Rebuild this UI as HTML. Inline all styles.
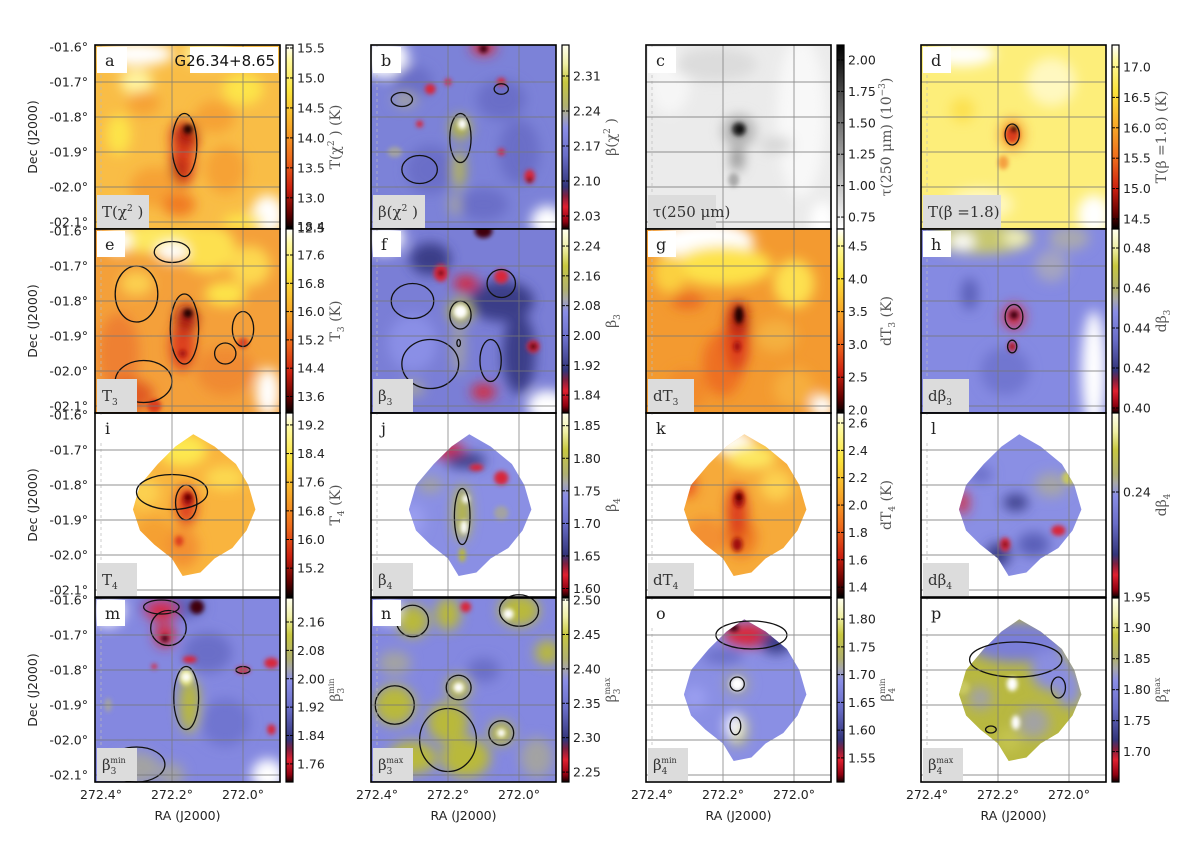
<!DOCTYPE html>
<html><head><meta charset="utf-8">
<style>
html,body{margin:0;padding:0;background:#fff;}
svg{display:block;}
text{font-family:"DejaVu Sans","Liberation Sans",sans-serif;}
.ser{font-family:"DejaVu Serif","Liberation Serif",serif;}
</style></head>
<body>
<svg id="fig" width="1200" height="842" viewBox="0 0 1200 842" xmlns="http://www.w3.org/2000/svg">
<defs>
<filter id="blur" x="-30%" y="-30%" width="160%" height="160%"><feGaussianBlur stdDeviation="6"/></filter>
<filter id="blur2" x="-50%" y="-50%" width="200%" height="200%"><feGaussianBlur stdDeviation="2.2"/></filter>
<linearGradient id="cm-hot" x1="0" y1="0" x2="0" y2="1">
<stop offset="0" stop-color="#ffffff"/><stop offset="0.08" stop-color="#fffaa0"/><stop offset="0.25" stop-color="#fbe43c"/><stop offset="0.45" stop-color="#f7a628"/><stop offset="0.62" stop-color="#ee6a1c"/><stop offset="0.78" stop-color="#cc2010"/><stop offset="0.92" stop-color="#600000"/><stop offset="1" stop-color="#000"/>
</linearGradient>
<linearGradient id="cm-beta" x1="0" y1="0" x2="0" y2="1">
<stop offset="0" stop-color="#fffff0"/><stop offset="0.1" stop-color="#f0f0a8"/><stop offset="0.2" stop-color="#c8c840"/><stop offset="0.33" stop-color="#b0b070"/><stop offset="0.38" stop-color="#a8a8a8"/><stop offset="0.45" stop-color="#8a8ee6"/><stop offset="0.6" stop-color="#6a6ec8"/><stop offset="0.77" stop-color="#33357a"/><stop offset="0.82" stop-color="#802040"/><stop offset="0.88" stop-color="#e02030"/><stop offset="0.96" stop-color="#900010"/><stop offset="1" stop-color="#100000"/>
</linearGradient>
<linearGradient id="cm-gray" x1="0" y1="0" x2="0" y2="1">
<stop offset="0" stop-color="#000"/><stop offset="0.3" stop-color="#555"/><stop offset="1" stop-color="#fff"/>
</linearGradient>
</defs>
</svg>
<script>
// ---- axis data ----
const raTicks = [272.4, 272.2, 272.0];
const decTicks = [-1.6, -1.7, -1.8, -1.9, -2.0, -2.1];
const panelLetters = ['a','b','c','d','e','f','g','h','i','j','k','l','m','n','o','p'];
// colorbar ranges (value at top, value at bottom) and tick values
const cbTop = [15.55,2.372,2.119,17.362, 18.335,2.2857,4.759,0.4895, 19.533,1.8695,2.673,0.319, 2.2276,2.503,1.838,1.948];
const cbBot = [12.48,2.004,0.655,14.335, 13.133,1.792,1.955,0.3975, 14.394,1.587,1.328,0.135, 1.709,2.2356,1.5066,1.651];
const cbTicks = [
 [15.5,15.0,14.5,14.0,13.5,13.0,12.5],[2.31,2.24,2.17,2.10,2.03],[2.00,1.75,1.50,1.25,1.00,0.75],[17.0,16.5,16.0,15.5,15.0,14.5],
 [18.4,17.6,16.8,16.0,15.2,14.4,13.6],[2.24,2.16,2.08,2.00,1.92,1.84],[4.5,4.0,3.5,3.0,2.5,2.0],[0.48,0.46,0.44,0.42,0.40],
 [19.2,18.4,17.6,16.8,16.0,15.2],[1.85,1.80,1.75,1.70,1.65,1.60],[2.6,2.4,2.2,2.0,1.8,1.6,1.4],[0.24],
 [2.16,2.08,2.00,1.92,1.84,1.76],[2.50,2.45,2.40,2.35,2.30,2.25],[1.80,1.75,1.70,1.65,1.60,1.55],[1.95,1.90,1.85,1.80,1.75,1.70]];
const cbDecimals = [1,2,2,1, 1,2,1,2, 1,2,1,2, 2,2,2,2];
const cbMaps = ['hot','beta','gray','hot','hot','beta','hot','beta','hot','beta','hot','beta','beta','beta','beta','beta'];
const cbLabels = [
 'T(χ<tspan dy="-6" font-size="9">2</tspan><tspan dy="6"> ) (K)</tspan>','β(χ<tspan dy="-6" font-size="9">2</tspan><tspan dy="6"> )</tspan>',
 'τ(250 μm) (10<tspan dy="-6" font-size="9">−3</tspan><tspan dy="6">)</tspan>','T(β =1.8) (K)',
 'T<tspan dy="4" font-size="9">3</tspan><tspan dy="-4"> (K)</tspan>','β<tspan dy="4" font-size="9">3</tspan>',
 'dT<tspan dy="4" font-size="9">3</tspan><tspan dy="-4"> (K)</tspan>','dβ<tspan dy="4" font-size="9">3</tspan>',
 'T<tspan dy="4" font-size="9">4</tspan><tspan dy="-4"> (K)</tspan>','β<tspan dy="4" font-size="9">4</tspan>',
 'dT<tspan dy="4" font-size="9">4</tspan><tspan dy="-4"> (K)</tspan>','dβ<tspan dy="4" font-size="9">4</tspan>',
 'β<tspan dy="4" font-size="9">3</tspan><tspan dy="-10" dx="-6" font-size="8">min</tspan>','β<tspan dy="4" font-size="9">3</tspan><tspan dy="-10" dx="-6" font-size="8">max</tspan>',
 'β<tspan dy="4" font-size="9">4</tspan><tspan dy="-10" dx="-6" font-size="8">min</tspan>','β<tspan dy="4" font-size="9">4</tspan><tspan dy="-10" dx="-6" font-size="8">max</tspan>'];
const boxLabels = [
 'T(χ<tspan dy="-6" font-size="9">2</tspan><tspan dy="6"> )</tspan>','β(χ<tspan dy="-6" font-size="9">2</tspan><tspan dy="6"> )</tspan>','τ(250 μm)','T(β =1.8)',
 'T<tspan dy="4" font-size="9">3</tspan>','β<tspan dy="4" font-size="9">3</tspan>','dT<tspan dy="4" font-size="9">3</tspan>','dβ<tspan dy="4" font-size="9">3</tspan>',
 'T<tspan dy="4" font-size="9">4</tspan>','β<tspan dy="4" font-size="9">4</tspan>','dT<tspan dy="4" font-size="9">4</tspan>','dβ<tspan dy="4" font-size="9">4</tspan>',
 'β<tspan dy="4" font-size="9">3</tspan><tspan dy="-11" dx="-6" font-size="8">min</tspan>','β<tspan dy="4" font-size="9">3</tspan><tspan dy="-11" dx="-6" font-size="8">max</tspan>',
 'β<tspan dy="4" font-size="9">4</tspan><tspan dy="-11" dx="-6" font-size="8">min</tspan>','β<tspan dy="4" font-size="9">4</tspan><tspan dy="-11" dx="-6" font-size="8">max</tspan>'];
const boxWidths = [52,52,68,78, 40,40,46,46, 40,40,46,46, 40,40,40,40];

// ---- map features (RA, Dec, halfsize RA, halfsize Dec, colour) ----
const W_='#ffffff',LY='#fff5a0',Y_='#fde44a',YO='#fbc444',O_='#f6a234',DO='#f07a24',R_='#dc3c1c',DR='#a01008',K_='#1a0000';
const Ol='#b9b93a',Gr='#a3a3a3',P_='#8a8fe6',B_='#6a6ec8',N_='#3a3c88',Rd='#d8283a',Dk='#400010';
const footprint = ['full','full','full','full','full','full','full','full','diamond','diamond','diamond','diamond','full','full','diamond','diamond'];
const baseColor = ['#f9bd46','#7c82d8','#ebebeb','#fdee7a','#f4a03a','#7a7ed6','#f39a30','#858ae2','#f9b43e','#8a8fe4','#f6aa3a','#8a8fe4','#8488e0','#8488e0','#8a8fe4','#b8b840'];
const diamondPts = [[272.14,-1.655],[272.08,-1.69],[272.02,-1.74],[271.985,-1.80],[271.965,-1.87],[271.99,-1.93],[272.03,-1.98],[272.08,-2.01],[272.12,-2.05],[272.17,-2.06],[272.2,-2.01],[272.25,-1.97],[272.29,-1.93],[272.31,-1.87],[272.29,-1.80],[272.24,-1.74],[272.19,-1.69]];
const blobs = [
 [[272.3,-1.62,.09,.03,W_],[272.1,-1.62,.06,.03,LY],[272.3,-1.7,.04,.03,LY],[272.0,-1.72,.05,.04,Y_],[272.28,-1.76,.04,.03,O_],[272.35,-1.85,.03,.05,Y_],[272.08,-1.8,.05,.04,O_],[272.05,-1.95,.05,.06,O_],[272.25,-2.0,.06,.05,O_],[271.93,-2.08,.04,.05,W_],[272.0,-2.1,.05,.02,Y_],[272.35,-2.08,.04,.03,Y_],[272.18,-2.05,.04,.03,DO],[272.17,-1.93,.03,.06,R_],[272.165,-1.86,.035,.045,R_],[272.16,-1.85,.022,.03,DR],[272.155,-1.835,.013,.013,K_],[272.18,-1.95,.012,.03,DR]],
 [[272.38,-1.63,.06,.05,W_],[272.3,-1.7,.05,.04,B_],[272.05,-1.75,.06,.05,B_],[272.0,-1.9,.05,.08,B_],[272.25,-1.95,.06,.06,B_],[272.1,-2.05,.06,.04,B_],[272.1,-1.6,.03,.02,Rd],[272.1,-1.605,.012,.012,Dk],[272.25,-1.72,.015,.015,Rd],[272.2,-1.7,.01,.01,Rd],[272.05,-1.7,.012,.012,Rd],[271.97,-1.97,.015,.02,Rd],[271.97,-1.98,.007,.007,Dk],[272.28,-1.82,.01,.01,Rd],[272.05,-1.9,.01,.01,Rd],[272.32,-1.75,.03,.02,Gr],[272.35,-1.9,.02,.015,Gr],[272.165,-1.83,.025,.03,Ol],[272.16,-1.82,.012,.015,W_],[272.17,-1.95,.015,.05,Ol],[272.18,-2.05,.015,.03,Gr],[271.92,-2.1,.04,.04,W_],[272.37,-2.1,.03,.03,W_]],
 [[271.98,-1.8,.06,.2,'#f8f8f8'],[272.35,-1.7,.05,.08,'#f6f6f6'],[272.22,-1.65,.1,.04,'#dcdcdc'],[272.05,-1.88,.04,.02,'#d6d6d6'],[272.155,-1.84,.04,.04,'#b0b0b0'],[272.155,-1.835,.02,.02,'#303030'],[272.153,-1.835,.011,.011,'#000'],[272.16,-1.92,.015,.03,'#888'],[272.17,-1.98,.015,.02,'#aaa'],[271.92,-2.1,.03,.05,W_]],
 [[272.3,-1.62,.08,.03,W_],[272.05,-1.7,.06,.06,'#fff8c0'],[272.25,-2.05,.08,.04,'#fff8c0'],[272.3,-1.78,.03,.03,'#fce050'],[272.16,-1.85,.03,.04,O_],[272.16,-1.85,.02,.025,R_],[272.155,-1.835,.01,.01,K_],[272.185,-1.93,.015,.02,'#f4a040'],[271.93,-2.08,.04,.05,W_]],
 [[272.22,-1.62,.15,.04,'#fde860'],[272.1,-1.65,.07,.06,'#fde050'],[272.2,-1.66,.04,.025,W_],[272.35,-1.63,.03,.03,W_],[271.98,-1.7,.05,.05,'#fdd850'],[272.05,-1.78,.05,.03,Y_],[272.3,-1.75,.04,.03,'#fcd050'],[272.35,-1.95,.05,.1,'#ee8030'],[272.32,-2.07,.06,.04,'#e05a20'],[272.05,-2.0,.07,.06,'#f08a30'],[272.17,-1.93,.03,.06,R_],[272.16,-1.85,.025,.035,DR],[272.155,-1.835,.013,.013,K_],[272.17,-1.95,.01,.01,DR],[271.93,-2.06,.03,.06,W_],[272.0,-1.92,.015,.015,R_],[272.25,-2.1,.02,.02,R_]],
 [[272.38,-1.62,.05,.04,W_],[272.1,-1.6,.025,.02,Dk],[272.22,-1.72,.02,.025,Rd],[272.22,-1.72,.008,.008,Dk],[272.15,-1.75,.03,.02,Rd],[272.05,-1.73,.02,.02,Rd],[272.25,-1.68,.05,.04,N_],[272.05,-1.8,.08,.05,N_],[272.3,-1.92,.06,.07,P_],[272.0,-1.95,.04,.1,N_],[271.96,-1.93,.018,.018,Rd],[271.96,-1.93,.01,.01,Dk],[272.165,-1.83,.03,.03,Ol],[272.165,-1.83,.02,.02,W_],[272.17,-1.93,.015,.07,Gr],[272.3,-2.05,.03,.02,Gr],[271.92,-2.1,.05,.04,W_],[272.1,-2.06,.03,.02,Rd]],
 [[272.25,-1.63,.12,.05,W_],[272.2,-1.7,.12,.05,'#fde24a'],[272.0,-1.75,.05,.06,'#fde050'],[272.35,-1.72,.04,.05,'#fbd040'],[272.3,-1.8,.04,.02,'#ea6a20'],[272.05,-1.9,.05,.04,'#f4b040'],[272.2,-1.98,.05,.08,'#ee7020'],[272.3,-2.05,.05,.05,'#f28a2c'],[272.0,-2.05,.05,.05,'#f6ae3c'],[272.16,-1.9,.03,.09,R_],[272.155,-1.85,.02,.04,DR],[272.155,-1.84,.012,.025,K_],[272.16,-1.93,.01,.015,DR],[271.92,-2.1,.03,.03,W_]],
 [[272.25,-1.62,.13,.04,'#c8c870'],[272.3,-1.63,.03,.02,W_],[272.15,-1.62,.03,.02,'#f0f0c0'],[272.0,-1.62,.05,.03,'#a9a9b0'],[272.05,-1.7,.04,.04,'#a4a4c0'],[272.28,-1.78,.02,.04,'#5a5eb8'],[272.18,-2.0,.06,.06,'#7176d0'],[272.155,-1.845,.025,.03,Rd],[272.155,-1.84,.012,.012,Dk],[272.16,-1.93,.012,.015,Rd],[272.16,-1.93,.006,.006,Dk],[271.93,-2.0,.03,.15,W_]],
 [[272.17,-1.7,.06,.04,'#fde850'],[272.05,-1.78,.05,.03,'#fcd850'],[272.28,-1.82,.04,.04,'#fcd050'],[272.25,-1.95,.05,.05,'#f5a030'],[272.17,-1.98,.04,.05,'#f39030'],[272.16,-1.86,.025,.05,R_],[272.155,-1.84,.015,.02,DR],[272.155,-1.835,.008,.008,K_],[272.18,-1.96,.012,.015,R_]],
 [[272.2,-1.7,.04,.02,Rd],[272.23,-1.7,.01,.01,Dk],[272.15,-1.73,.05,.02,N_],[272.12,-1.75,.02,.01,Rd],[272.05,-1.78,.02,.02,Rd],[272.25,-1.8,.03,.02,Gr],[272.16,-1.88,.02,.07,Ol],[272.15,-1.84,.01,.012,W_],[272.155,-1.92,.01,.02,W_],[272.16,-2.0,.01,.02,Ol],[272.05,-1.88,.02,.02,Gr],[272.3,-1.9,.03,.04,'#9a9ef0']],
 [[272.17,-1.68,.05,.03,W_],[272.12,-1.72,.06,.03,'#fde860'],[272.05,-1.8,.04,.04,'#fcd050'],[272.3,-1.8,.02,.03,'#e84a1c'],[272.25,-1.95,.05,.05,'#f39030'],[272.15,-1.95,.04,.05,'#ee7a24'],[272.16,-1.88,.025,.07,R_],[272.155,-1.84,.015,.025,DR],[272.155,-1.835,.008,.01,K_],[272.16,-1.97,.015,.02,DR]],
 [[272.25,-1.77,.03,.02,'#6a6ec8'],[272.05,-1.8,.04,.03,'#a6a6a8'],[272.0,-1.78,.02,.02,'#c8c860'],[272.3,-1.85,.015,.03,Rd],[272.15,-1.85,.03,.02,N_],[272.1,-1.97,.04,.03,'#5a5eb8'],[272.03,-1.93,.02,.015,Rd],[272.18,-1.97,.015,.02,Rd],[272.18,-1.97,.007,.007,Dk],[272.2,-2.0,.03,.03,N_]],
 [[272.38,-1.63,.04,.04,W_],[272.2,-1.62,.08,.03,'#5a5eb8'],[272.23,-1.63,.04,.025,Rd],[272.13,-1.62,.02,.02,Dk],[272.22,-1.7,.025,.03,Rd],[272.22,-1.71,.01,.01,Dk],[272.15,-1.77,.02,.01,Rd],[272.25,-1.79,.008,.008,Rd],[272.0,-1.8,.02,.01,Rd],[271.92,-1.78,.02,.015,Rd],[271.92,-1.97,.012,.015,Rd],[272.1,-1.75,.06,.05,'#6a6ec8'],[272.15,-1.9,.025,.07,Ol],[272.16,-1.82,.02,.025,'#e4e470'],[272.16,-1.82,.012,.012,W_],[272.3,-2.08,.06,.04,Gr],[272.2,-2.1,.03,.03,Gr],[271.93,-2.1,.04,.04,W_],[272.38,-1.9,.01,.02,Gr],[272.05,-1.95,.06,.06,'#7075d0']],
 [[272.37,-1.63,.03,.03,W_],[272.3,-1.66,.04,.04,Ol],[272.2,-1.64,.03,.04,Ol],[272.15,-1.62,.015,.015,Rd],[272.0,-1.63,.05,.04,Ol],[272.03,-1.64,.015,.015,W_],[272.35,-1.78,.04,.03,Gr],[272.1,-1.8,.04,.03,'#6a6ec8'],[272.35,-1.9,.05,.05,Ol],[272.17,-1.85,.03,.03,Ol],[272.17,-1.85,.015,.015,W_],[272.2,-1.95,.05,.05,Ol],[272.15,-2.05,.06,.05,Ol],[272.3,-2.05,.06,.04,Ol],[272.05,-1.98,.03,.03,Ol],[272.05,-1.98,.012,.012,W_],[271.95,-2.05,.04,.05,Gr],[271.92,-1.75,.03,.03,Ol]],
 [[272.13,-1.7,.06,.03,Rd],[272.17,-1.68,.015,.01,Dk],[272.05,-1.72,.04,.03,N_],[272.2,-1.76,.05,.02,'#6a6ec8'],[272.16,-1.84,.03,.03,Gr],[272.16,-1.84,.02,.02,W_],[272.16,-1.97,.025,.04,'#c8c860'],[272.17,-1.96,.02,.03,W_],[272.28,-1.88,.03,.03,'#9a9ef0']],
 [[272.15,-1.72,.12,.05,'#7a7ed8'],[272.05,-1.8,.05,.05,'#8a8ee0'],[272.0,-1.85,.03,.05,'#8a8ee0'],[272.16,-1.84,.015,.02,W_],[272.15,-1.95,.012,.02,W_],[272.25,-1.88,.03,.03,Gr],[272.1,-1.95,.04,.04,Gr],[272.3,-1.85,.02,.02,'#c8c860'],[272.17,-2.0,.03,.03,'#c4c450']]
];
// contour loops (RA, Dec, halfsize RA, halfsize Dec)
const contours = [
 [[272.165,-1.88,.035,.09]],
 [[272.165,-1.86,.03,.07],[272.33,-1.75,.03,.02],[272.05,-1.72,.02,.015],[272.28,-1.95,.05,.04]],
 [],
 [[272.16,-1.85,.02,.03]],
 [[272.2,-1.66,.05,.03],[272.165,-1.88,.04,.1],[272.3,-1.78,.06,.08],[272.0,-1.88,.03,.05],[272.28,-2.03,.08,.06],[272.05,-1.95,.03,.03]],
 [[272.165,-1.84,.03,.04],[272.17,-1.92,.005,.01],[272.3,-1.8,.06,.05],[272.25,-1.98,.08,.07],[272.05,-1.75,.04,.04],[272.08,-1.97,.03,.06]],
 [],
 [[272.155,-1.845,.025,.035],[272.16,-1.93,.013,.018]],
 [[272.16,-1.85,.03,.05],[272.2,-1.82,.1,.05]],
 [[272.16,-1.89,.022,.08]],
 [],
 [],
 [[272.16,-1.88,.035,.09],[272.21,-1.68,.05,.05],[272.23,-1.62,.05,.02],[272.0,-1.8,.02,.01],[272.3,-2.07,.08,.05]],
 [[272.3,-1.66,.045,.045],[272.0,-1.63,.055,.045],[272.35,-1.9,.055,.055],[272.17,-1.85,.035,.035],[272.2,-2.0,.08,.09],[272.05,-1.98,.035,.035]],
 [[272.16,-1.84,.02,.02],[272.165,-1.96,.015,.025],[272.12,-1.7,.1,.04]],
 [[272.15,-1.77,.13,.05],[272.03,-1.85,.02,.03],[272.22,-1.97,.015,.01]]
];

// ---- layout & axis functions ----
const colLeft=[95,371,646,921], rowTop=[45,229,413,598], PW=185, PH=184;
const svg=document.getElementById('fig'); const NS='http://www.w3.org/2000/svg';
function mk(tag,attrs,parent){const e=document.createElementNS(NS,tag);for(const k in attrs)e.setAttribute(k,attrs[k]);(parent||svg).appendChild(e);return e;}
function xs(c,ra){return colLeft[c]+6+(272.4-ra)*355;}
function ys(r,dec){return rowTop[r]+2+(-1.6-dec)*350;}
function cbY(i,r,v){return rowTop[r]+(cbTop[i]-v)/(cbTop[i]-cbBot[i])*PH;}
const defs=svg.querySelector('defs');

for(let i=0;i<16;i++){
 const c=i%4, r=Math.floor(i/4), L=colLeft[c], T=rowTop[r];
 const cp=mk('clipPath',{id:'clip'+i},defs);
 if(footprint[i]==='full') mk('rect',{x:L,y:T,width:PW,height:PH},cp);
 else mk('polygon',{points:diamondPts.map(p=>xs(c,p[0])+','+ys(r,p[1])).join(' ')},cp);
 const g=mk('g',{'clip-path':'url(#clip'+i+')'});
 
 
 mk('rect',{x:L-20,y:T-20,width:PW+40,height:PH+40,fill:baseColor[i]},g);
 const bg=mk('g',{filter:'url(#blur)'},g);
 const sg=mk('g',{filter:'url(#blur2)'},g);
 for(const b of blobs[i]){
  const small=Math.max(b[2],b[3])<0.026;
  const e=mk('ellipse',{cx:xs(c,b[0]),cy:ys(r,b[1]),rx:b[2]*355*(small?1:1.15),ry:b[3]*350*(small?1:1.15),fill:b[4]},small?sg:bg);
  
  
 }
 const og=mk('g',{fill:'none',stroke:'#111','stroke-width':1.3});
 for(const k of contours[i]){
  const e=mk('ellipse',{cx:xs(c,k[0]),cy:ys(r,k[1]),rx:k[2]*355,ry:k[3]*350},og);
  
  
 }
 // grid
 const gg=mk('g',{stroke:'#777','stroke-width':0.9,opacity:0.8});
 
 
 raTicks.forEach(ra=>{const x=xs(c,ra); if(ra<272.39) mk('line',{x1:x,y1:T,x2:x,y2:T+PH},gg); else mk('line',{x1:x,y1:T,x2:x,y2:T+PH,'stroke-dasharray':'3,3',stroke:'#bbb'},gg);});
 decTicks.forEach(d=>{const y=ys(r,d); if(d<-1.65) mk('line',{x1:L,y1:y,x2:L+PW,y2:y},gg);});
 // letter box
 const lb=mk('rect',{x:L+2,y:T+2,width:i===0?30:28,height:26,fill:'#fff'});
 
 
 const lt=mk('text',{x:L+10,y:T+21,'font-size':16,class:'ser',fill:'#222'}); lt.textContent=panelLetters[i];
 
 
 if(i===0){
  const tb=mk('rect',{x:L+95,y:T+2,width:88,height:26,fill:'#fff'});
  
  
  const tt=mk('text',{x:L+180,y:T+21,'font-size':15,'text-anchor':'end',fill:'#111'}); tt.textContent='G26.34+8.65';
  
  
 }
 // bottom label box
 const bb=mk('rect',{x:L+2,y:T+PH-34,width:boxWidths[i],height:33,fill:'#dcdcdc'});
 
 
 const bt=mk('text',{x:L+7,y:T+PH-12,'font-size':15,class:'ser',fill:'#333'}); bt.innerHTML=boxLabels[i];
 
 
 // border
 const br=mk('rect',{x:L,y:T,width:PW,height:PH,fill:'none',stroke:'#000','stroke-width':1.6});
 
 
 // colorbar
 const cx=L+PW+6;
 const cb=mk('rect',{x:cx,y:T,width:7,height:PH,fill:'url(#cm-'+cbMaps[i]+')',stroke:'#000','stroke-width':1.2});
 
 
 cbTicks[i].forEach(v=>{
  const y=cbY(i,r,v);
  mk('line',{x1:cx,y1:y,x2:cx+3,y2:y,stroke:'#000','stroke-width':1});
  mk('line',{x1:cx+4,y1:y,x2:cx+7,y2:y,stroke:'#000','stroke-width':1});
  const t=mk('text',{x:cx+11,y:y+4.5,'font-size':12.5,fill:'#222'}); t.textContent=v.toFixed(cbDecimals[i]);
  
  
 });
 const cl=mk('text',{x:0,y:0,'font-size':14,class:'ser',fill:'#555','text-anchor':'middle',transform:`translate(${cx+54},${T+PH/2}) rotate(-90)`}); cl.innerHTML=cbLabels[i];
 
 
 // y ticks column 0
 if(c===0){
  decTicks.forEach(d=>{
   const t=mk('text',{x:88,y:ys(r,d)+4.5,'font-size':12.5,'text-anchor':'end',fill:'#222'});
   t.textContent='-0'+Math.abs(d).toFixed(1)+'°';
   
   
  });
  const yt=mk('text',{x:0,y:0,'font-size':12.5,'text-anchor':'middle',fill:'#222',transform:`translate(37,${T+PH/2}) rotate(-90)`}); yt.textContent='Dec (J2000)';
  
  
 }
 if(r===3){
  raTicks.forEach(ra=>{
   const t=mk('text',{x:xs(c,ra),y:799,'font-size':12.5,'text-anchor':'middle',fill:'#222'}); t.textContent=ra.toFixed(1)+'°';
   
   
  });
  const xt=mk('text',{x:L+PW/2,y:820,'font-size':12.5,'text-anchor':'middle',fill:'#222'}); xt.textContent='RA (J2000)';
  
  
 }
}
</script>
</body></html>
